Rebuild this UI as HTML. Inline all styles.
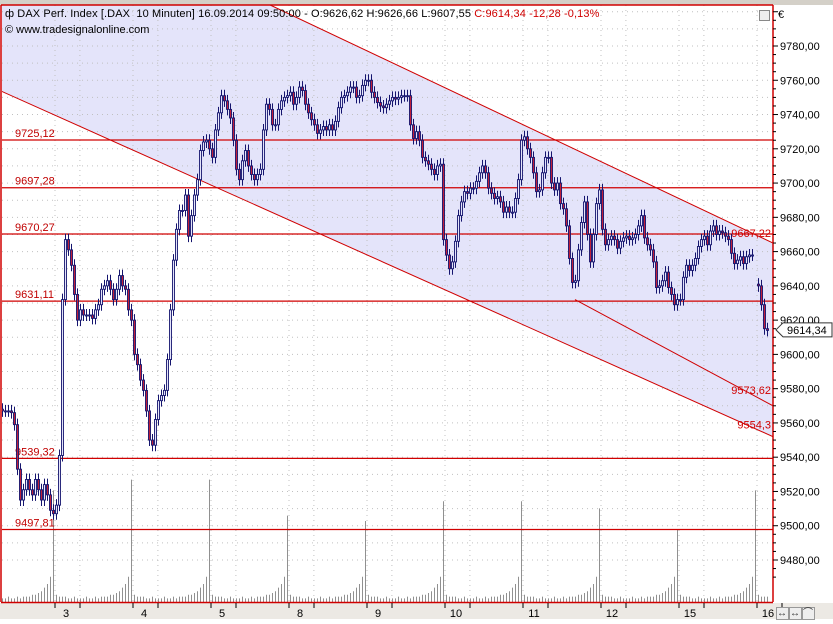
<!DOCTYPE html>
<html><head><meta charset="utf-8"><style>
html,body{margin:0;padding:0;background:#fff;}
body{width:833px;height:619px;overflow:hidden;font-family:"Liberation Sans",sans-serif;}
svg text{font-family:"Liberation Sans",sans-serif;}
</style></head><body>
<svg id="chart" width="833" height="619" xmlns="http://www.w3.org/2000/svg">
<rect x="0" y="0" width="833" height="619" fill="#ffffff"/>
<rect x="0" y="0" width="833" height="5" fill="#d4d0c8"/>
<rect x="0" y="603" width="833" height="16" fill="#ece9e4"/>
<g id="plot"></g>
<g id="axes"></g>
</svg>
<script>
const closes=[9567,9567,9567,9566,9559,9533,9515,9521,9527,9521,9518,9527,9521,9515,9524,9518,9509,9507,9512,
9541,9632,9667,9661,9652,9635,9620,9626,9623,9623,9623,9621,9626,9629,9638,9640,9643,9638,9632,9638,9646,9640,9638,9626,9620,
9600,9594,9585,9579,9567,9550,9547,9562,9573,9576,9579,9597,9626,9655,9673,9684,9684,9693,9669,9681,9693,9702,9719,9724,9725,9720,9715,9731,9741,9751,9748,9743,9738,9725,9708,9702,9713,9719,9710,9705,9702,9705,9708,9731,9746,9743,9734,9734,9743,9748,9750,9751,9753,9746,9750,9756,9754,9746,9741,9737,9734,9729,9731,9733,9731,9734,9731,9736,9744,9750,9751,9753,9756,9756,9750,9751,9757,9760,9760,9753,9750,9747,9745,9744,9746,9748,9750,9749,9750,9751,9751,9751,9734,9726,9730,9725,9715,9713,9711,9708,9705,9710,9711,
9667,9658,9650,9654,9666,9681,9689,9695,9694,9697,9697,9701,9706,9710,9706,9697,9694,9691,9692,9689,9683,9686,9683,9683,9691,9702,9725,9727,9720,9715,9706,9695,9696,9706,9715,9715,9700,9696,9700,9688,9685,9675,9656,9642,9643,9661,9677,9689,9670,9654,9670,9688,9696,9673,9664,9667,9669,9667,9662,9666,9668,9669,9667,9668,9670,9675,9681,9668,9664,9661,9654,9639,9640,9643,9648,9639,9635,9629,9632,9632,9645,9652,9649,9652,9656,9663,9667,9669,9664,9672,9675,9670,9672,9671,9669,9667,9659,9653,9655,9657,9653,9657,9658,9658,null,9640,9629,9615,9614];
const dayLabels=["3","4","5","8","9","10","11","12","15","16"];
const dayStartBars=[21,47,73,99,125,151,177,203,229,255];
const levels=[9725.12,9697.28,9670.27,9631.11,9539.32,9497.81];
const levelText=["9725,12","9697,28","9670,27","9631,11","9539,32","9497,81"];
const yTicks=[9780,9760,9740,9720,9700,9680,9660,9640,9620,9600,9580,9560,9540,9520,9500,9480];
const upperLine=[[89.3,9804],[257,9665]];
const lowerLine=[[-0.7,9754],[257,9552]];
const midLine=[[191,9632],[257,9570]];
const volDaily=[6,4,3,3,3,2,2,3,2,2,2,3,2,2,3,2,3,3,3,4,4,5,6,8,10,14];
const volSpikes=[62,68,68,48,45,56,56,52,40,62];
const lastPrice=9614.34;

const NS="http://www.w3.org/2000/svg";
const X0=2,X1=773,Y0=5,Y1=602;
function xs(i){return 2+3*i;}
function ys(p){return 46+(9780-p)*1.7133;}
function el(tag,attrs,parent){const e=document.createElementNS(NS,tag);for(const k in attrs)e.setAttribute(k,attrs[k]);parent.appendChild(e);return e;}
const plot=document.getElementById('plot');
const axes=document.getElementById('axes');
function ly(line,x){const[a,b]=line;const xa=xs(a[0]),xb=xs(b[0]),ya=ys(a[1]),yb=ys(b[1]);return ya+(yb-ya)*(x-xa)/(xb-xa);}

const defs=el('defs',{},plot);const cp=el('clipPath',{id:'pc'},defs);el('rect',{x:X0,y:Y0,width:X1-X0,height:Y1-Y0},cp);
const g=el('g',{'clip-path':'url(#pc)'},plot);
let fill=el('polygon',{points:`0,${Y0} ${xs(upperLine[0][0])},${ly(upperLine,xs(upperLine[0][0]))} ${X1},${ly(upperLine,X1)} ${X1},${ly(lowerLine,X1)} 0,${ly(lowerLine,0)}`,fill:'#e4e4fa'},g);


for(let p=9480;p<=9800;p+=10){const y=ys(p);if(y<Y0||y>Y1)continue;el('line',{x1:X0,x2:X1,y1:y,y2:y,stroke:'#c0c0c0','stroke-dasharray':'1,4','stroke-width':1},g);}
for(let k=-1;k<10;k++){for(const off of [0,8.3]){const x=xs(dayStartBars[0]-26+(k+1)*26+off)-10;if(x<X0||x>X1)continue;el('line',{x1:x,x2:x,y1:Y0,y2:Y1,stroke:'#c0c0c0','stroke-dasharray':'1,4'},g);}}
for(let i=0;i<closes.length;i++){
  const d=(i+9)%26;let v=volDaily[d];
  const si=dayStartBars.indexOf(i+4);if(si>=0)v=volSpikes[si];
  const x=xs(i)+0.5;const r=el('line',{x1:x,x2:x,y1:Y1,y2:Y1-v*1.8,stroke:'#909090','stroke-width':1},g);
  
  
}
levels.forEach((p,i)=>{const y=ys(p);
  const l=el('line',{x1:X0,x2:X1,y1:y,y2:y,stroke:'#d00000','stroke-width':1.2},g);
  
  
  const t=el('text',{x:15,y:y-3,'font-size':11,fill:'#c00000'},g);t.textContent=levelText[i];
  
  
});
[[upperLine,'channel-upper'],[lowerLine,'channel-lower'],[midLine,'channel-middle']].forEach(([ln,n])=>{
  const xa=ln===lowerLine?0:xs(ln[0][0]);
  const l=el('line',{x1:xa,y1:ly(ln,xa),x2:X1,y2:ly(ln,X1),stroke:'#d00000','stroke-width':1},g);
  
  
});
[['9667,22',ly(upperLine,X1)-6],['9573,62',ly(midLine,X1)-12],['9554,3',ly(lowerLine,X1)-8]].forEach(([s,y])=>{
  const t=el('text',{x:771,y:y,'font-size':11,fill:'#d00000','text-anchor':'end'},g);t.textContent=s;
  
  
});
for(let i=0;i<closes.length;i++){
  const c=closes[i];if(c==null)continue;
  let o=(i>0&&closes[i-1]!=null)?closes[i-1]:c+1;
  const hi=Math.max(o,c)+3.5,lo=Math.min(o,c)-3.5;const x=xs(i);
  const w=el('line',{x1:x+0.5,x2:x+0.5,y1:ys(hi),y2:ys(lo),stroke:'#14146e','stroke-width':1},g);
  
  
  const yt=ys(Math.max(o,c)),yb=ys(Math.min(o,c));
  const b=el('rect',{x:x-0.5,y:yt,width:2,height:Math.max(1,yb-yt),fill:c<o?'#c0203a':'#e4e4fa',stroke:'#14146e','stroke-width':0.9},g);
  
  
}
el('line',{x1:1,x2:X1,y1:Y0,y2:Y0,stroke:'#d00000','stroke-width':1.5},axes);
el('line',{x1:1,x2:1,y1:Y0,y2:Y1,stroke:'#d00000','stroke-width':1.5},axes);
el('line',{x1:X1,x2:X1,y1:Y0,y2:Y1,stroke:'#d00000','stroke-width':1.5},axes);
el('line',{x1:1,x2:X1,y1:Y1+0.5,y2:Y1+0.5,stroke:'#d00000','stroke-width':1.5},axes);
for(let p=9470;p<=9800;p+=5){const y=ys(p);if(y<Y0+2||y>Y1)continue;el('line',{x1:X1,x2:X1+(p%20===0?5:3),y1:y,y2:y,stroke:'#000'},axes);}
yTicks.forEach(p=>{const y=ys(p);const t=el('text',{x:780,y:y+4,'font-size':11,fill:'#000'},axes);t.textContent=p.toFixed(2).replace('.',',');
  
  });
dayStartBars.forEach((b,i)=>{const x=xs(b)-10;
  el('line',{x1:x,x2:x,y1:603,y2:608,stroke:'#000'},axes);
  el('line',{x1:x+25,x2:x+25,y1:603,y2:608,stroke:'#000'},axes);
  const t=el('text',{x:x+11,y:617,'font-size':11,fill:'#000','text-anchor':'middle'},axes);t.textContent=dayLabels[i];
  
  });
{const y=ys(lastPrice);const tg=el('g',{},axes);
 
 
 el('polygon',{points:`776,${y} 783,${y-7} 832,${y-7} 832,${y+7} 783,${y+7}`,fill:'#fff',stroke:'#333'},tg);
 const t=el('text',{x:787,y:y+4,'font-size':11,fill:'#000'},tg);t.textContent='9614,34';}
</script>
<div style="position:absolute;left:5px;top:8px;font-size:11px;color:#000;white-space:nowrap;letter-spacing:0.1px">ф DAX Perf. Index [.DAX&nbsp; 10 Minuten] 16.09.2014 09:50:00 - O:9626,62 H:9626,66 L:9607,55 <span style="color:#d00000">C:9614,34 -12,28 -0,13%</span></div>
<div style="position:absolute;left:5px;top:24px;font-size:11px;color:#000">© www.tradesignalonline.com</div>
<div style="position:absolute;left:759px;top:10px;width:9px;height:9px;border:1px solid #888;background:#eee"></div>
<div style="position:absolute;left:778px;top:9px;font-size:11px">€</div>
<div style="position:absolute;left:776px;top:604px;font-size:10px;letter-spacing:1px;color:#333">
<span style="border:1px solid #999;background:#eee">↔</span><span style="border:1px solid #999;background:#eee">↔</span><span style="border:1px solid #999;background:#eee">⌒</span></div>
</body></html>
